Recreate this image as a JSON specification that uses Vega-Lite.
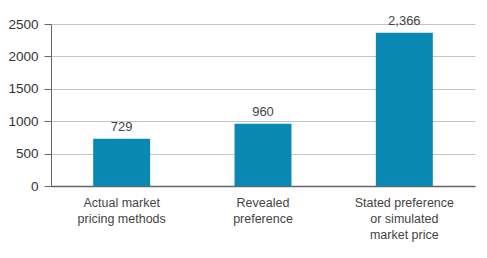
{
  "$schema": "https://vega.github.io/schema/vega-lite/v6.json",
  "width": 424,
  "height": 162,
  "autosize": {"type": "none"},
  "padding": {"left": 51, "top": 24, "right": 12, "bottom": 72},
  "background": "white",
  "config": {
    "view": {"stroke": null},
    "font": "Liberation Sans"
  },
  "data": {
    "values": [
      {"method": "Actual market|pricing methods", "value": 729},
      {"method": "Revealed|preference", "value": 960},
      {"method": "Stated preference|or simulated|market price", "value": 2366}
    ]
  },
  "encoding": {
    "x": {
      "field": "method",
      "type": "nominal",
      "sort": null,
      "scale": {"paddingInner": 0, "paddingOuter": 0},
      "axis": {
        "title": null,
        "labelAngle": 0,
        "ticks": false,
        "labelExpr": "split(datum.label, '|')",
        "labelFontSize": 12.5,
        "labelColor": "#444444",
        "labelLineHeight": 16,
        "labelPadding": 10,
        "domainColor": "#666666",
        "domainWidth": 1.5,
        "labelLimit": 200
      }
    },
    "y": {
      "field": "value",
      "type": "quantitative",
      "scale": {"domain": [0, 2500], "nice": false},
      "axis": {
        "title": null,
        "values": [0, 500, 1000, 1500, 2000, 2500],
        "format": "d",
        "labelFontSize": 13.5,
        "labelColor": "#333333",
        "labelPadding": 6,
        "tickSize": 7,
        "tickColor": "#666666",
        "domainColor": "#666666",
        "gridColor": "#c4c4c4",
        "gridWidth": 1.2
      }
    }
  },
  "layer": [
    {
      "mark": {"type": "bar", "color": "#0a88b4", "width": {"band": 0.403}}
    },
    {
      "mark": {"type": "text", "baseline": "bottom", "dy": -5, "fontSize": 13, "color": "#444444"},
      "encoding": {
        "text": {"field": "value", "type": "quantitative", "format": ","}
      }
    }
  ]
}
